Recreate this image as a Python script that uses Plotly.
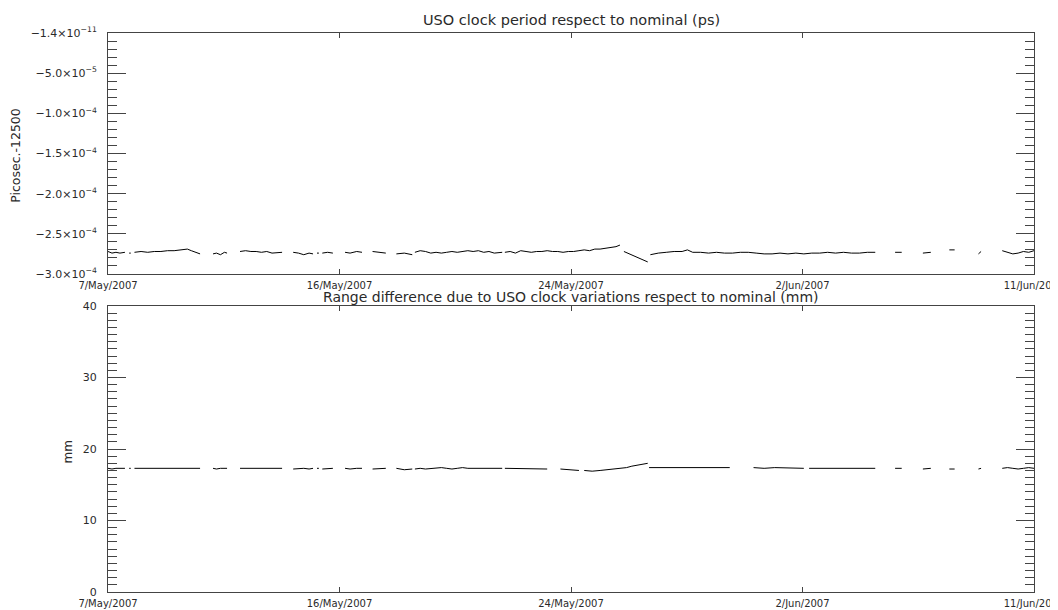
import pandas as pd
import plotly.graph_objects as go

START = "2007-05-07"

# ---- top panel: USO clock period minus nominal (ps), None = data gap ----
top_days = [
    0.0, 0.15, 0.3, 0.45, 0.64, None,
    0.80, 0.86, None,
    1.0, 1.25, 1.5, 1.75, 2.0, 2.25, 2.5, 2.75, 3.0, 3.15, 3.3, 3.48, None,
    3.97, 4.1, 4.25, 4.4, 4.5, None,
    4.99, 5.2, 5.4, 5.6, 5.8, 6.0, 6.2, 6.4, 6.58, None,
    7.0, 7.2, 7.4, 7.6, 7.75, None,
    7.9, 7.97, None,
    8.1, 8.3, 8.5, None,
    8.96, 9.15, 9.4, 9.6, None,
    10.0, 10.25, 10.5, None,
    10.9, 11.2, 11.5, None,
    11.6, 11.8, 12.0, 12.2, 12.4, 12.6, 12.8, 13.0, 13.2, 13.4, 13.6, 13.8, 14.0, 14.2, 14.4, 14.6, 14.9, None,
    15.0, 15.2, 15.4, 15.6, 15.8, 16.0, 16.2, 16.4, 16.6, 16.8, 17.0, 17.2, 17.4, 17.6, 17.8, 18.0, 18.2, 18.4, 18.6, 18.8, 19.0, 19.2, 19.35, None,
    19.5, 19.7, 19.9, 20.1, 20.3, 20.4, None,
    20.5, 20.8, 21.1, 21.4, 21.7, 21.9, 22.1, 22.4, 22.7, 23.0, 23.3, 23.6, 23.9, 24.2, 24.5, 24.8, 25.1, 25.4, 25.7, 26.0, 26.3, 26.6, 26.9, 27.2, 27.5, 27.8, 28.1, 28.4, 28.7, 29.0, None,
    29.75, 30.0, None,
    30.8, 31.1, None,
    31.8, 32.0, None,
    32.9, 33.0, None,
    33.8, 34.0, 34.2, 34.4, 34.6, 34.8, 35.0,
]
top_vals_e4 = [
    -2.72, -2.74, -2.73, -2.74, -2.73, None,
    -2.74, -2.74, None,
    -2.73, -2.72, -2.73, -2.72, -2.72, -2.71, -2.71, -2.70, -2.69, -2.71, -2.73, -2.75, None,
    -2.75, -2.74, -2.76, -2.73, -2.74, None,
    -2.72, -2.71, -2.72, -2.72, -2.73, -2.72, -2.74, -2.73, -2.73, None,
    -2.73, -2.74, -2.76, -2.74, -2.75, None,
    -2.74, -2.74, None,
    -2.74, -2.73, -2.74, None,
    -2.73, -2.74, -2.72, -2.73, None,
    -2.72, -2.73, -2.74, None,
    -2.75, -2.74, -2.76, None,
    -2.73, -2.71, -2.72, -2.74, -2.73, -2.74, -2.73, -2.72, -2.73, -2.72, -2.71, -2.72, -2.71, -2.73, -2.72, -2.74, -2.73, None,
    -2.73, -2.72, -2.74, -2.71, -2.72, -2.73, -2.72, -2.72, -2.71, -2.72, -2.72, -2.73, -2.72, -2.72, -2.71, -2.70, -2.71, -2.69, -2.69, -2.68, -2.67, -2.66, -2.64, None,
    -2.72, -2.75, -2.78, -2.81, -2.84, -2.85, None,
    -2.76, -2.74, -2.73, -2.72, -2.72, -2.70, -2.73, -2.73, -2.74, -2.73, -2.74, -2.74, -2.73, -2.73, -2.74, -2.75, -2.75, -2.74, -2.75, -2.74, -2.75, -2.74, -2.74, -2.73, -2.74, -2.73, -2.74, -2.74, -2.73, -2.73, None,
    -2.73, -2.73, None,
    -2.74, -2.73, None,
    -2.70, -2.70, None,
    -2.75, -2.72, None,
    -2.71, -2.73, -2.75, -2.74, -2.72, -2.73, -2.71,
]

# ---- bottom panel: range difference (mm) ----
bot_days = [
    0.0, 0.15, 0.3, 0.45, 0.64, None,
    0.80, 0.86, None,
    1.0, 1.25, 1.5, 1.75, 2.0, 2.25, 2.5, 2.75, 3.0, 3.15, 3.3, 3.48, None,
    3.97, 4.1, 4.25, 4.4, 4.5, None,
    4.99, 5.2, 5.4, 5.6, 5.8, 6.0, 6.2, 6.4, 6.58, None,
    7.0, 7.2, 7.4, 7.6, 7.75, None,
    7.9, 7.97, None,
    8.1, 8.3, 8.5, None,
    8.96, 9.15, 9.4, 9.6, None,
    10.0, 10.25, 10.5, None,
    10.9, 11.2, 11.5, None,
    11.6, 11.8, 12.0, 12.2, 12.4, 12.6, 12.8, 13.0, 13.2, 13.4, 13.6, 13.8, 14.0, 14.2, 14.4, 14.6, 14.9, None,
    15.0, 15.3, 15.6, 15.95, 16.3, 16.6, None,
    17.1, 17.4, 17.8, None,
    18.0, 18.3, 18.6, 18.9, 19.2, 19.4, 19.6, 19.8, 20.0, 20.2, 20.4, None,
    20.45, 20.8, 21.2, 21.6, 22.0, 22.4, 22.8, 23.2, 23.5, None,
    24.4, 24.8, 25.2, 25.6, 26.0, 26.3, None,
    26.5, 26.9, 27.3, 27.7, 28.1, 28.5, 29.0, None,
    29.75, 30.0, None,
    30.8, 31.1, None,
    31.8, 32.0, None,
    32.9, 33.0, None,
    33.8, 34.0, 34.2, 34.4, 34.6, 34.8, 35.0,
]
bot_vals = [
    17.3, 17.2, 17.3, 17.3, 17.3, None,
    17.3, 17.3, None,
    17.3, 17.3, 17.3, 17.2, 17.3, 17.3, 17.3, 17.3, 17.2, 17.3, 17.3, 17.3, None,
    17.3, 17.2, 17.3, 17.3, 17.3, None,
    17.3, 17.3, 17.2, 17.3, 17.3, 17.2, 17.3, 17.3, 17.3, None,
    17.2, 17.3, 17.3, 17.2, 17.3, None,
    17.3, 17.3, None,
    17.2, 17.3, 17.3, None,
    17.3, 17.2, 17.3, 17.3, None,
    17.2, 17.3, 17.3, None,
    17.3, 17.1, 17.2, None,
    17.2, 17.3, 17.2, 17.3, 17.3, 17.4, 17.3, 17.2, 17.3, 17.4, 17.3, 17.3, 17.4, 17.3, 17.3, 17.4, 17.3, None,
    17.3, 17.3, 17.2, 17.3, 17.3, 17.2, None,
    17.2, 17.1, 17.0, None,
    17.0, 16.9, 17.0, 17.1, 17.2, 17.3, 17.4, 17.6, 17.7, 17.9, 18.0, None,
    17.4, 17.4, 17.4, 17.4, 17.3, 17.4, 17.4, 17.4, 17.4, None,
    17.4, 17.3, 17.4, 17.4, 17.3, 17.3, None,
    17.3, 17.3, 17.3, 17.4, 17.3, 17.3, 17.3, None,
    17.3, 17.3, None,
    17.2, 17.3, None,
    17.2, 17.2, None,
    17.2, 17.3, None,
    17.3, 17.4, 17.3, 17.2, 17.3, 17.4, 17.3,
]

# ---- axis ticks ----
x_tick_days = [0, 8.75, 17.5, 26.25, 35]
x_tick_text = ["7/May/2007", "16/May/2007", "24/May/2007", "2/Jun/2007", "11/Jun/2007"]
top_ytick_vals = [0, -5e-5, -1e-4, -1.5e-4, -2e-4, -2.5e-4, -3e-4]
top_ytick_text = ["−1.4×10<sup>−11</sup>", "−5.0×10<sup>−5</sup>", "−1.0×10<sup>−4</sup>",
                  "−1.5×10<sup>−4</sup>", "−2.0×10<sup>−4</sup>", "−2.5×10<sup>−4</sup>",
                  "−3.0×10<sup>−4</sup>"]
bot_ytick_vals = [0, 10, 20, 30, 40]

base = pd.Timestamp(START)


def to_dates(days):
    return [None if d is None else base + pd.Timedelta(days=d) for d in days]


top_x = to_dates(top_days)
top_y = [None if v is None else v * 1e-4 for v in top_vals_e4]
bot_x = to_dates(bot_days)
xt = to_dates(x_tick_days)

FONT = "DejaVu Sans"
TXT = "#2a2a2a"
AX = "#444444"

fig = go.Figure()
fig.add_trace(go.Scatter(x=top_x, y=top_y, mode="lines", line=dict(color="black", width=1.0),
                         connectgaps=False, xaxis="x", yaxis="y", showlegend=False))
fig.add_trace(go.Scatter(x=bot_x, y=bot_vals, mode="lines", line=dict(color="black", width=1.0),
                         connectgaps=False, xaxis="x2", yaxis="y2", showlegend=False))

xcommon = dict(type="date", range=[xt[0], xt[-1]], tickvals=xt, ticktext=x_tick_text,
               ticks="inside", ticklen=5, tickcolor=AX, showline=True, linecolor=AX,
               linewidth=1, mirror="ticks", showgrid=False, zeroline=False,
               automargin=False,
               ticklabelstandoff=2, ticklabeloverflow="allow",
               tickfont=dict(family=FONT, size=10, color=TXT), tickangle=0)
ycommon = dict(ticks="inside", ticklen=18, tickcolor=AX, showline=True, linecolor=AX,
               linewidth=1, mirror="ticks", showgrid=False, zeroline=False,
               automargin=False,
               ticklabelstandoff=8,
               tickfont=dict(family=FONT, size=11, color=TXT))

# page has an 8px body margin: figure origin sits at (8, 8) in the window
fig.update_layout(
    width=1050, height=602,
    margin=dict(l=100, r=24, t=25, b=18),
    paper_bgcolor="white", plot_bgcolor="white",
    xaxis=dict(domain=[0, 1], anchor="y", **xcommon),
    yaxis=dict(domain=[0.5689, 1.0], anchor="x", range=[-3e-4, 0],
               tickvals=top_ytick_vals, ticktext=top_ytick_text,
               minor=dict(ticks="inside", ticklen=9, dtick=1e-5, tick0=0, tickcolor=AX, showgrid=False),
               **ycommon),
    xaxis2=dict(domain=[0, 1], anchor="y2", **xcommon),
    yaxis2=dict(domain=[0.0, 0.5116], anchor="x2", range=[0, 40],
                tickvals=bot_ytick_vals,
                minor=dict(ticks="inside", ticklen=9, dtick=1, tick0=0, tickcolor=AX, showgrid=False),
                **ycommon),
    annotations=[
        dict(text="USO clock period respect to nominal (ps)", x=0.5, y=1.0233, xref="paper",
             yref="paper", xanchor="center", yanchor="middle", showarrow=False,
             font=dict(family=FONT, size=14.5, color=TXT)),
        dict(text="Range difference due to USO clock variations respect to nominal (mm)",
             x=0.5, y=0.5277, xref="paper", yref="paper", xanchor="center", yanchor="middle",
             showarrow=False, font=dict(family=FONT, size=14, color=TXT)),
        dict(text="Picosec.-12500", x=-0.0994, y=0.782, xref="paper", yref="paper",
             xanchor="center", yanchor="middle", textangle=-90, showarrow=False,
             font=dict(family=FONT, size=12.5, color=TXT)),
        dict(text="mm", x=-0.043, y=0.25, xref="paper", yref="paper",
             xanchor="center", yanchor="middle", textangle=-90, showarrow=False,
             font=dict(family=FONT, size=12, color=TXT)),
    ],
)

# clip the right-most date label at the figure edge (as in the reference) without widening the page
clip_js = (
    "var gd=document.getElementById('{plot_id}');"
    "gd.style.overflow='hidden';"
    "if(gd.parentElement){gd.parentElement.style.overflow='hidden';}"
    "document.documentElement.style.overflowX='hidden';"
    "document.body.style.overflowX='hidden';"
)

fig.write_html("out.html", post_script=clip_js)
